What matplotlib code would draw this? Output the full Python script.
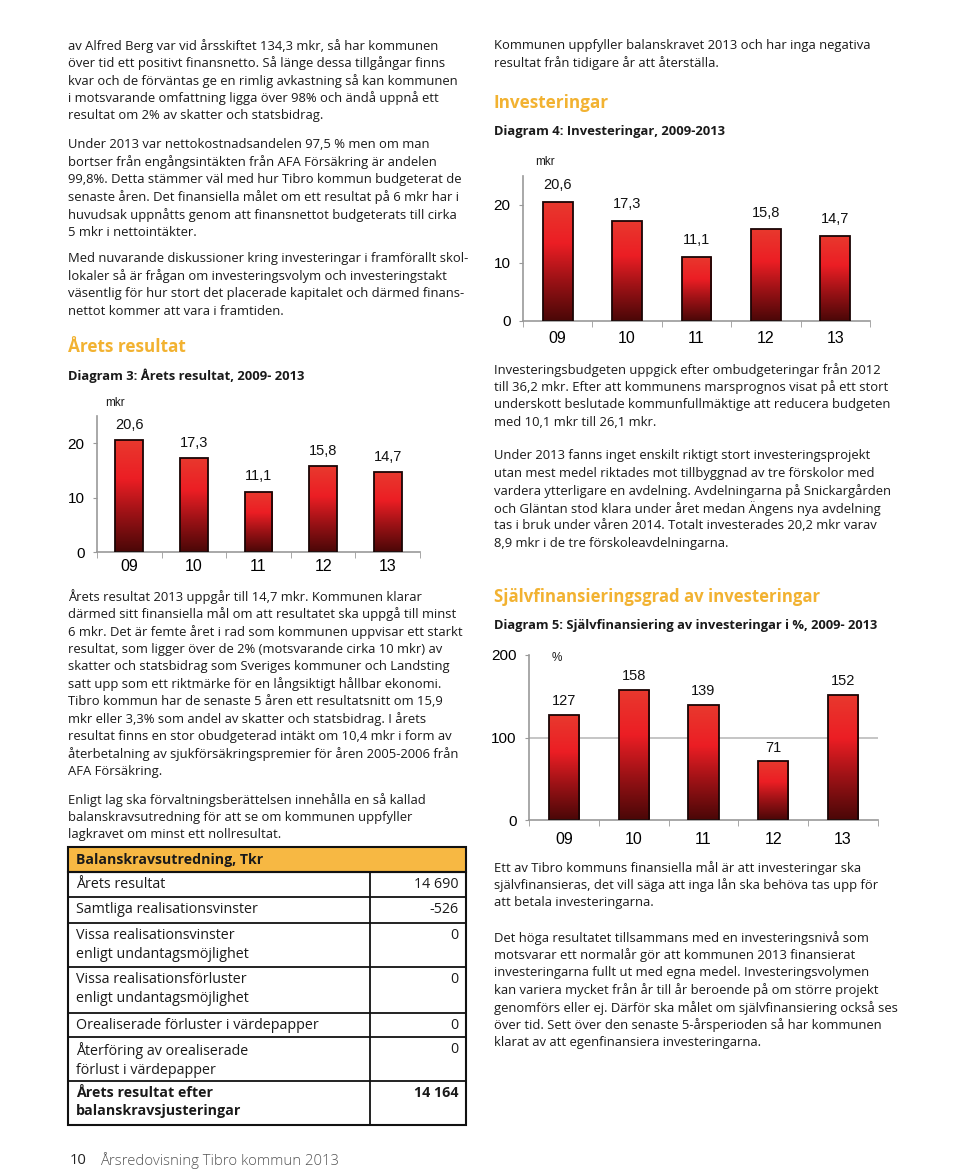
import numpy as np
import matplotlib
matplotlib.use("Agg")
from matplotlib import pyplot as plt
from matplotlib.colors import LinearSegmentedColormap
from matplotlib.patches import Rectangle

W, H = 960, 1171

# data for the three bar charts
years = ["09", "10", "11", "12", "13"]
resultat = [20.6, 17.3, 11.1, 15.8, 14.7]
resultat_labels = ["20,6", "17,3", "11,1", "15,8", "14,7"]
invest = [20.6, 17.3, 11.1, 15.8, 14.7]
invest_labels = ["20,6", "17,3", "11,1", "15,8", "14,7"]
sjalvfin = [127, 158, 139, 71, 152]
sjalvfin_labels = ["127", "158", "139", "71", "152"]

# table
tab_rows = ["Årets resultat", "Samtliga realisationsvinster",
            "Vissa realisationsvinster\nenligt undantagsmöjlighet",
            "Vissa realisationsförluster\nenligt undantagsmöjlighet",
            "Orealiserade förluster i värdepapper",
            "Återföring av orealiserade\nförlust i värdepapper",
            "Årets resultat efter\nbalanskravsjusteringar"]
tab_vals = ["14 690", "-526", "0", "0", "0", "0", "14 164"]

left1 = ["av Alfred Berg var vid årsskiftet 134,3 mkr, så har kommunen",
         "över tid ett positivt finansnetto. Så länge dessa tillgångar finns",
         "kvar och de förväntas ge en rimlig avkastning så kan kommunen",
         "i motsvarande omfattning ligga över 98% och ändå uppnå ett",
         "resultat om 2% av skatter och statsbidrag."]
left2 = ["Under 2013 var nettokostnadsandelen 97,5 % men om man",
         "bortser från engångsintäkten från AFA Försäkring är andelen",
         "99,8%. Detta stämmer väl med hur Tibro kommun budgeterat de",
         "senaste åren. Det finansiella målet om ett resultat på 6 mkr har i",
         "huvudsak uppnåtts genom att finansnettot budgeterats till cirka",
         "5 mkr i nettointäkter."]
left3 = ["Med nuvarande diskussioner kring investeringar i framförallt skol-",
         "lokaler så är frågan om investeringsvolym och investeringstakt",
         "väsentlig för hur stort det placerade kapitalet och därmed finans-",
         "nettot kommer att vara i framtiden."]
left4 = ["Årets resultat 2013 uppgår till 14,7 mkr. Kommunen klarar",
         "därmed sitt finansiella mål om att resultatet ska uppgå till minst",
         "6 mkr. Det är femte året i rad som kommunen uppvisar ett starkt",
         "resultat, som ligger över de 2% (motsvarande cirka 10 mkr) av",
         "skatter och statsbidrag som Sveriges kommuner och Landsting",
         "satt upp som ett riktmärke för en långsiktigt hållbar ekonomi.",
         "Tibro kommun har de senaste 5 åren ett resultatsnitt om 15,9",
         "mkr eller 3,3% som andel av skatter och statsbidrag. I årets",
         "resultat finns en stor obudgeterad intäkt om 10,4 mkr i form av",
         "återbetalning av sjukförsäkringspremier för åren 2005-2006 från",
         "AFA Försäkring."]
left5 = ["Enligt lag ska förvaltningsberättelsen innehålla en så kallad",
         "balanskravsutredning för att se om kommunen uppfyller",
         "lagkravet om minst ett nollresultat."]
right1 = ["Kommunen uppfyller balanskravet 2013 och har inga negativa",
          "resultat från tidigare år att återställa."]
right2 = ["Investeringsbudgeten uppgick efter ombudgeteringar från 2012",
          "till 36,2 mkr. Efter att kommunens marsprognos visat på ett stort",
          "underskott beslutade kommunfullmäktige att reducera budgeten",
          "med 10,1 mkr till 26,1 mkr."]
right3 = ["Under 2013 fanns inget enskilt riktigt stort investeringsprojekt",
          "utan mest medel riktades mot tillbyggnad av tre förskolor med",
          "vardera ytterligare en avdelning. Avdelningarna på Snickargården",
          "och Gläntan stod klara under året medan Ängens nya avdelning",
          "tas i bruk under våren 2014. Totalt investerades 20,2 mkr varav",
          "8,9 mkr i de tre förskoleavdelningarna."]
right4 = ["Ett av Tibro kommuns finansiella mål är att investeringar ska",
          "självfinansieras, det vill säga att inga lån ska behöva tas upp för",
          "att betala investeringarna."]
right5 = ["Det höga resultatet tillsammans med en investeringsnivå som",
          "motsvarar ett normalår gör att kommunen 2013 finansierat",
          "investeringarna fullt ut med egna medel. Investeringsvolymen",
          "kan variera mycket från år till år beroende på om större projekt",
          "genomförs eller ej. Därför ska målet om självfinansiering också ses",
          "över tid. Sett över den senaste 5-årsperioden så har kommunen",
          "klarat av att egenfinansiera investeringarna."]

BODY = "Open Sans"
ORANGE = "#f2b231"
TXT = "#1a1a1a"

fig = plt.figure(figsize=(W / 100, H / 100), dpi=100)
fig.patch.set_facecolor("white")


def t(x, y, s, size=9.4, **kw):
    kw.setdefault("family", BODY)
    kw.setdefault("color", TXT)
    kw.setdefault("va", "center")
    fig.text(x / W, 1 - y / H, s, fontsize=size, **kw)


def para(x, y0, lines, step=17.4):
    for i, s in enumerate(lines):
        t(x, y0 + i * step, s)


para(68, 46, left1)
para(68, 145, left2)
para(68, 259, left3)
t(68, 347, "Årets resultat", size=12.3, weight="bold", color=ORANGE)
t(68, 376, "Diagram 3: Årets resultat, 2009- 2013", size=9.4, weight="bold")
para(68, 597, left4)
para(68, 800, left5)

para(494, 46, right1)
t(494, 103, "Investeringar", size=12.3, weight="bold", color=ORANGE)
t(494, 131, "Diagram 4: Investeringar, 2009-2013", size=9.4, weight="bold")
para(494, 370, right2)
para(494, 456, right3)
t(494, 597, "Självfinansieringsgrad av investeringar", size=12.1, weight="bold", color=ORANGE)
t(494, 626, "Diagram 5: Självfinansiering av investeringar i %, 2009- 2013", size=9.3, weight="bold")
para(494, 868, right4)
para(494, 938, right5)

t(70, 1161, "10", size=10.7, color="#222222")
t(100, 1161, "Årsredovisning Tibro kommun 2013", size=10.7, color="#555555", weight="light")

# bar gradient: dark at the bottom, bright red higher up
grad = LinearSegmentedColormap.from_list(
    "bar", [(0, "#4a0707"), (0.35, "#9e1216"), (0.65, "#ec1e24"), (1, "#e8392e")])


def bar_chart(left, right, y0, ytop, vmax, vals, labels, yticks, unit, unit_xy,
              label_off, xpad, grid=None):
    ax = fig.add_axes([left / W, 1 - y0 / H, (right - left) / W, (y0 - ytop) / H])
    x = np.arange(len(vals))
    bars = ax.bar(x, vals, width=0.43, color="none", edgecolor="#1a0505", lw=1.3, zorder=3)
    g = np.linspace(0, 1, 256).reshape(-1, 1)
    for b in bars:
        bx, by = b.get_x(), b.get_y()
        im = ax.imshow(g, cmap=grad, origin="lower", aspect="auto",
                       extent=[bx, bx + b.get_width(), by, by + b.get_height()], zorder=2)
        im.set_clip_path(b)
    for xi, v, lab in zip(x, vals, labels):
        ax.annotate(lab, (xi, v), xytext=(0, label_off), textcoords="offset points",
                    ha="center", va="center", fontsize=10.5, family="Liberation Sans",
                    color="#111111")
    if grid is not None:
        ax.axhline(grid, color="#bbbbbb", lw=1.2, zorder=1)
    ax.set_xlim(-0.5, len(vals) - 0.5)
    ax.set_ylim(0, vmax)
    ax.set_yticks(yticks)
    ax.set_yticklabels([str(v) for v in yticks], family="Liberation Sans", fontsize=11)
    ax.set_xticks(x)
    ax.set_xticklabels(years, family="Liberation Sans", fontsize=11.5)
    ax.set_xticks(np.arange(len(vals) + 1) - 0.5, minor=True)
    ax.tick_params(axis="x", which="major", length=0, pad=xpad)
    ax.tick_params(axis="x", which="minor", length=4, color="#999999")
    ax.tick_params(axis="y", length=3, color="#999999", pad=6)
    for s in ["top", "right"]:
        ax.spines[s].set_visible(False)
    for s in ["left", "bottom"]:
        ax.spines[s].set_color("#999999")
        ax.spines[s].set_linewidth(1.2)
    ax.set_facecolor("none")
    t(unit_xy[0], unit_xy[1], unit, size=8.5, family="Liberation Sans", ha="center")
    return ax


bar_chart(97, 420, 552, 416, 25, resultat, resultat_labels, [0, 10, 20], "mkr", (115, 403), 11, 5)
bar_chart(523, 870, 321, 176, 25, invest, invest_labels, [0, 10, 20], "mkr", (545, 162), 12, 7)
bar_chart(529, 878, 820, 655, 200, sjalvfin, sjalvfin_labels, [0, 100, 200], "%", (557, 658), 10, 9,
          grid=100)

# table
tab = fig.add_axes([0, 0, 1, 1])
tab.set_xlim(0, W)
tab.set_ylim(H, 0)
tab.axis("off")
tx0, tx1, tdiv = 68, 466, 370
edges = [872, 897, 923, 967, 1013, 1037, 1081, 1125]
tab.add_patch(Rectangle((tx0, 847), tx1 - tx0, 25, facecolor="#f7b843",
                        edgecolor="#111111", lw=1.5))
tab.add_patch(Rectangle((tx0, 872), tx1 - tx0, 1125 - 872, facecolor="none",
                        edgecolor="#111111", lw=1.5))
for e in edges[1:-1]:
    tab.plot([tx0, tx1], [e, e], color="#111111", lw=1.3)
tab.plot([tdiv, tdiv], [872, 1125], color="#111111", lw=1.3)
tab.text(76, 860, "Balanskravsutredning, Tkr", fontsize=10.2, weight="bold",
         family=BODY, va="center", color=TXT)
for i, (lab, val) in enumerate(zip(tab_rows, tab_vals)):
    top = edges[i]
    bold = i == len(tab_rows) - 1
    tab.text(76, top + 5, lab, fontsize=10.3, family=BODY, va="top", color=TXT,
             linespacing=1.4, weight="bold" if bold else "normal")
    tab.text(458, top + 5, val, fontsize=10.3, family=BODY, va="top", ha="right",
             color=TXT, weight="bold" if bold else "normal")

fig.savefig("out.png", dpi=100)
